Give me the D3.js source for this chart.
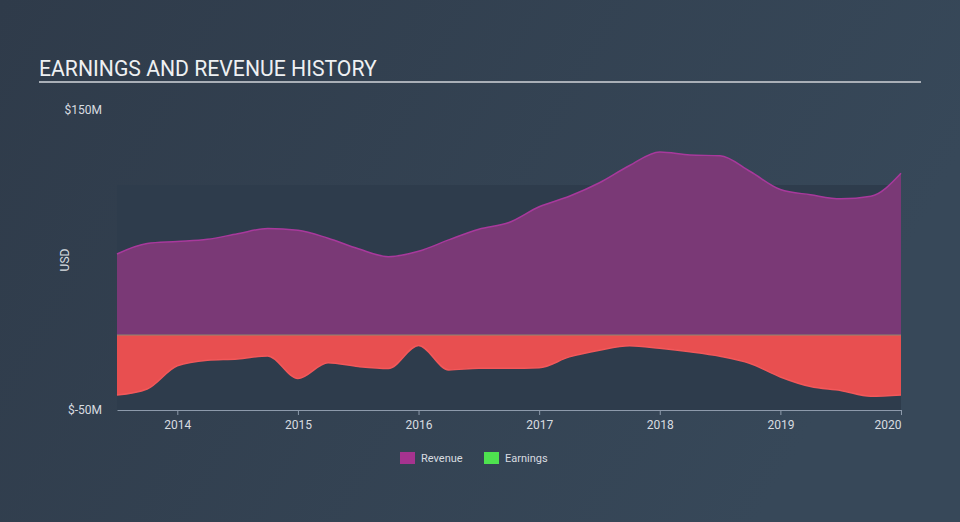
<!DOCTYPE html>
<html><head><meta charset="utf-8">
<script src="https://cdn.jsdelivr.net/npm/d3@7/dist/d3.min.js"></script>
<style>html,body{margin:0;padding:0;background:#323f4f;}svg{display:block;}</style>
</head><body>
<svg id="chart" width="960" height="522"></svg>
<script>
const years = [2013.5,2013.75,2014,2014.25,2014.5,2014.75,2015,2015.25,2015.5,2015.75,2016,2016.25,2016.5,2016.75,2017,2017.25,2017.5,2017.75,2018,2018.25,2018.5,2018.75,2019,2019.25,2019.5,2019.75,2020];
const revenue = [54,61,62.3,63.8,67.5,71,69.8,64.5,57.5,52.2,55.8,63.4,70.5,75,85.5,92.5,101.5,113,122,120,119.5,109,97,93.5,90.8,92.5,107.8];
const earnings = [-40,-36,-20.5,-16.8,-16,-14,-29,-18.5,-21,-22.3,-7,-23.3,-22.2,-22.2,-21.8,-14.6,-10.1,-7.2,-8.9,-11.2,-14.2,-19,-28,-34.4,-37,-40.8,-40];
const yTicks = [150,-50];
const xTicks = [2014,2015,2016,2017,2018,2019,2020];
const legendItems = ["Revenue","Earnings"];

const svg = d3.select("#chart");
const defs = svg.append("defs");
const g = defs.append("linearGradient").attr("id","bg").attr("x1","0").attr("y1","0").attr("x2","1").attr("y2","0.3");
g.append("stop").attr("offset","0").attr("stop-color","#2f3b4a");
g.append("stop").attr("offset","1").attr("stop-color","#374859");
svg.append("rect").attr("width",960).attr("height",522).attr("fill","url(#bg)");

const x = d3.scaleLinear().domain([2013.5,2020]).range([117,901]);
const y = d3.scaleLinear().domain([-50,150]).range([410,110]);

// title
svg.append("text").attr("x",39).attr("y",76).text("EARNINGS AND REVENUE HISTORY")
  .attr("font-family","Roboto").attr("font-size",21.2).attr("fill","#eef0f2");
svg.append("line").attr("x1",39).attr("x2",921).attr("y1",82).attr("y2",82).attr("stroke","#a9afb7").attr("stroke-width",2);

// plot background
svg.append("rect").attr("x",x(2013.5)).attr("y",y(100)).attr("width",x(2020)-x(2013.5)).attr("height",y(-50)-y(100)).attr("fill","#2e3c4c");

const data = years.map((yr,i)=>({yr, r:revenue[i], e:earnings[i]}));
const areaR = d3.area().x(d=>x(d.yr)).y0(y(0)).y1(d=>y(d.r)).curve(d3.curveMonotoneX);
const lineR = d3.line().x(d=>x(d.yr)).y(d=>y(d.r)).curve(d3.curveMonotoneX);
const areaE = d3.area().x(d=>x(d.yr)).y0(y(0)).y1(d=>y(d.e)).curve(d3.curveMonotoneX);
const lineE = d3.line().x(d=>x(d.yr)).y(d=>y(d.e)).curve(d3.curveMonotoneX);

svg.append("path").datum(data).attr("d",areaR).attr("fill","#7a3976");
svg.append("path").datum(data).attr("d",lineR).attr("fill","none").attr("stroke","#a8399c").attr("stroke-width",1.5);
svg.append("path").datum(data).attr("d",areaE).attr("fill","#e84f50");
svg.append("path").datum(data).attr("d",lineE).attr("fill","none").attr("stroke","#f2585a").attr("stroke-width",1.5);
svg.append("line").attr("x1",x(2013.5)).attr("x2",x(2020)).attr("y1",y(0)).attr("y2",y(0)).attr("stroke","#8a8a6e").attr("stroke-width",1);

// x axis
const xa = svg.append("g").attr("transform",`translate(0,${y(-50)})`)
  .call(d3.axisBottom(x).tickValues(xTicks).tickFormat(d3.format("d")).tickSize(5).tickSizeOuter(0));
xa.select(".domain").attr("stroke","#8d9aab");
xa.selectAll(".tick line").attr("stroke","#8d9aab");
xa.selectAll(".tick text").attr("font-family","Roboto").attr("font-size",12).attr("fill","#d8dce0").attr("dy","0.9em");
xa.selectAll(".tick text").filter(d=>d===2020).attr("text-anchor","end").attr("dx","0");

// y labels
svg.selectAll(".ylab").data(yTicks).enter().append("text").attr("class","ylab")
  .attr("x",102).attr("y",d=>y(d)+4).attr("text-anchor","end").text(d=>"$"+d+"M")
  .attr("font-family","Roboto").attr("font-size",12).attr("fill","#d8dce0");
svg.append("text").attr("transform","translate(69,260) rotate(-90)").attr("text-anchor","middle").text("USD")
  .attr("font-family","Roboto").attr("font-size",12).attr("fill","#d8dce0");

// legend
const lcol = ["#a6338f","#4ee24f"];
const lx = [400,484];
legendItems.forEach((t,i)=>{
  svg.append("rect").attr("x",lx[i]).attr("y",452).attr("width",15).attr("height",12).attr("fill",lcol[i]);
  svg.append("text").attr("x",lx[i]+21).attr("y",462).text(t).attr("font-family","Roboto").attr("font-size",11).attr("fill","#d8dce0");
});
</script>
</body></html>
